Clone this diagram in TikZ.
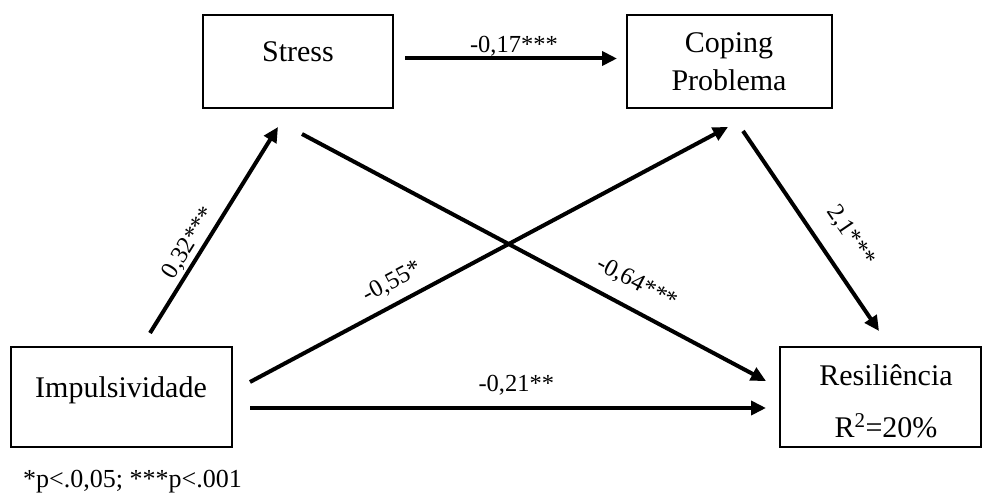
\documentclass[tikz,border=0pt]{standalone}
\usepackage{fontspec}
\setmainfont{Liberation Serif}
\usetikzlibrary{arrows.meta,calc}

\begin{document}
\begin{tikzpicture}[x=1pt, y=-1pt,
    box/.style={draw, line width=2pt, inner sep=0pt},
    txt/.style={font=\fontsize{30}{36}\selectfont, anchor=base, inner sep=0pt},
    arr/.style={-{Triangle[length=15pt, width=14pt]}, line width=4pt},
    lbl/.style={font=\fontsize{24.5}{29}\selectfont, inner sep=0pt, anchor=south},
    note/.style={font=\fontsize{26}{30}\selectfont, inner sep=0pt, anchor=base west}
]
\useasboundingbox (0,0) rectangle (984,494);

% boxes
\node[box, minimum width=190pt, minimum height=93pt] (stress) at (298,61.5) {};
\node[box, minimum width=205pt, minimum height=93pt] (coping) at (729.5,61.5) {};
\node[box, minimum width=221pt, minimum height=100pt] (impuls) at (121.5,397) {};
\node[box, minimum width=201pt, minimum height=100pt] (resil) at (880.5,397) {};

% box texts
\node[txt] (stressT) at (298,62) {Stress};
\node[txt] (copingT1) at (729,53) {Coping};
\node[txt] (copingT2) at (729,91) {Problema};
\node[txt] (impulsT) at (121,397) {Impulsividade};
\node[txt] (resilT1) at (886,385) {Resiliência};
\node[txt] (resilT2) at (886,437) {R\textsuperscript{2}=20\%};

% paths
\draw[arr] ($(stress.east)+(11,-3)$) -- node[lbl, pos=0.514, outer ysep=2.5pt] {-0,17***} ($(coping.west)+(-9,-3)$);
\draw[arr] ($(impuls.north)+(28.5,-13)$) -- node[lbl, sloped, pos=0.40, outer ysep=4pt] {0,32***} ($(stress.south)+(-20,18)$);
\draw[arr] ($(stress.south)+(4,25)$) -- node[lbl, sloped, pos=0.696, outer ysep=15.5pt] {-0,64***} ($(resil.west)+(-13,-16)$);
\draw[arr] ($(impuls.east)+(17,-15)$) -- node[lbl, sloped, pos=0.318, outer ysep=11pt] {-0,55*} ($(coping.south)+(-1.5,18)$);
\draw[arr] ($(coping.south)+(13.5,22)$) -- node[lbl, sloped, pos=0.609, outer ysep=20pt] {2,1***} ($(resil.north)+(-1.5,-15)$);
\draw[arr] ($(impuls.east)+(17,11)$) -- node[lbl, pos=0.516, outer ysep=12.5pt] {-0,21**} ($(resil.west)+(-13,11)$);

\node[note] (pnote) at (23,487) {*p<.0,05; ***p<.001};
\end{tikzpicture}
\end{document}
